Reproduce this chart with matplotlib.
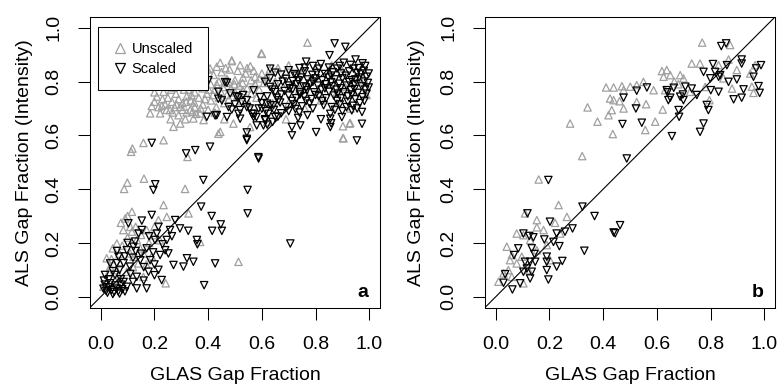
import matplotlib
matplotlib.use('Agg')
import matplotlib.pyplot as plt
from matplotlib.lines import Line2D
import numpy as np

plt.rcParams.update({
    'font.family': ['Liberation Sans', 'DejaVu Sans'],
    'font.size': 14,
})

# ---- panel a: all plots ----
a_scaled = [
    # upper-right cluster
    (0.871, 0.942), (0.911, 0.929), (0.852, 0.898), (0.949, 0.882), (0.765, 0.874), (0.905, 0.870),
    (0.975, 0.868), (0.930, 0.862), (0.820, 0.865), (0.790, 0.858), (0.850, 0.852), (0.880, 0.848),
    (0.960, 0.850), (0.985, 0.858), (0.740, 0.850), (0.700, 0.842), (0.650, 0.833), (0.672, 0.826),
    (0.720, 0.828), (0.760, 0.838), (0.805, 0.832), (0.835, 0.828), (0.865, 0.835), (0.895, 0.830),
    (0.925, 0.838), (0.955, 0.832), (0.980, 0.840), (0.612, 0.799), (0.630, 0.812), (0.690, 0.810),
    (0.715, 0.802), (0.745, 0.815), (0.770, 0.808), (0.800, 0.812), (0.825, 0.805), (0.848, 0.815),
    (0.872, 0.808), (0.900, 0.812), (0.935, 0.805), (0.962, 0.815), (0.990, 0.818), (0.660, 0.790),
    (0.700, 0.785), (0.730, 0.790), (0.755, 0.782), (0.780, 0.792), (0.808, 0.785), (0.838, 0.790),
    (0.862, 0.782), (0.888, 0.792), (0.915, 0.785), (0.945, 0.790), (0.972, 0.782), (0.995, 0.795),
    (0.640, 0.770), (0.685, 0.765), (0.715, 0.772), (0.742, 0.760), (0.768, 0.768), (0.795, 0.760),
    (0.822, 0.770), (0.850, 0.762), (0.878, 0.770), (0.905, 0.760), (0.932, 0.768), (0.958, 0.758),
    (0.985, 0.770), (0.620, 0.745), (0.655, 0.740), (0.700, 0.748), (0.728, 0.738), (0.758, 0.745),
    (0.785, 0.735), (0.812, 0.745), (0.840, 0.738), (0.868, 0.748), (0.895, 0.738), (0.920, 0.745),
    (0.948, 0.735), (0.975, 0.742), (0.600, 0.720), (0.632, 0.712), (0.668, 0.722), (0.690, 0.705),
    (0.720, 0.715), (0.750, 0.708), (0.778, 0.718), (0.830, 0.712), (0.860, 0.705), (0.890, 0.715),
    (0.940, 0.710), (0.965, 0.720), (0.588, 0.700), (0.615, 0.690), (0.645, 0.695), (0.672, 0.682),
    (0.700, 0.690), (0.740, 0.685), (0.770, 0.675), (0.855, 0.680), (0.900, 0.690), (0.935, 0.693),
    (0.973, 0.687), (0.580, 0.668), (0.612, 0.660), (0.640, 0.650), (0.660, 0.670), (0.712, 0.631),
    (0.712, 0.600), (0.743, 0.637), (0.802, 0.612), (0.855, 0.662), (0.855, 0.631), (0.858, 0.645),
    (0.898, 0.668), (0.973, 0.643), (0.954, 0.581), (0.620, 0.640),
    (0.760, 0.852), (0.812, 0.848), (0.890, 0.858), (0.942, 0.848), (0.968, 0.830), (0.728, 0.822),
    (0.788, 0.825), (0.858, 0.822), (0.912, 0.822), (0.948, 0.808), (0.998, 0.830), (0.678, 0.800),
    (0.735, 0.805), (0.790, 0.800), (0.858, 0.798), (0.925, 0.798), (0.980, 0.800), (0.705, 0.775),
    (0.765, 0.778), (0.835, 0.775), (0.892, 0.775), (0.945, 0.772), (0.998, 0.778), (0.672, 0.752),
    (0.742, 0.752), (0.800, 0.750), (0.882, 0.755), (0.935, 0.752), (0.990, 0.755), (0.712, 0.728),
    (0.765, 0.728), (0.825, 0.728), (0.880, 0.728), (0.920, 0.725), (0.982, 0.728), (0.725, 0.698),
    (0.790, 0.700), (0.872, 0.695), (0.915, 0.705), (0.955, 0.700), (0.735, 0.665), (0.820, 0.660),
    # middle
    (0.470, 0.796), (0.401, 0.805), (0.438, 0.762), (0.482, 0.756), (0.505, 0.745), (0.544, 0.731),
    (0.530, 0.750), (0.519, 0.694), (0.488, 0.696), (0.500, 0.715), (0.432, 0.675), (0.395, 0.669),
    (0.569, 0.768), (0.555, 0.700), (0.570, 0.680), (0.544, 0.582), (0.544, 0.611), (0.588, 0.514),
    (0.631, 0.848), (0.631, 0.780), (0.650, 0.761), (0.594, 0.742), (0.619, 0.718), (0.643, 0.712),
    (0.662, 0.730), (0.600, 0.699), (0.625, 0.680), (0.650, 0.668), (0.612, 0.656), (0.581, 0.637),
    (0.606, 0.637), (0.563, 0.680), (0.569, 0.668), (0.513, 0.742), (0.525, 0.724), (0.476, 0.705),
    (0.451, 0.730), (0.438, 0.736), (0.470, 0.668), (0.513, 0.680), (0.519, 0.662), (0.544, 0.705),
    (0.426, 0.674), (0.463, 0.798), (0.544, 0.587), (0.587, 0.519),
    # scattered
    (0.407, 0.558), (0.352, 0.545), (0.318, 0.533), (0.190, 0.572), (0.382, 0.434), (0.203, 0.418),
    (0.196, 0.397), (0.547, 0.397), (0.547, 0.310), (0.374, 0.335), (0.413, 0.300), (0.447, 0.269),
    (0.451, 0.245), (0.415, 0.245), (0.706, 0.198), (0.385, 0.043), (0.426, 0.124), (0.345, 0.130),
    (0.308, 0.112), (0.321, 0.143), (0.358, 0.211), (0.326, 0.245), (0.295, 0.254), (0.277, 0.285),
    (0.271, 0.118), (0.227, 0.062), (0.252, 0.161), (0.360, 0.195),
    # lower-left
    (0.190, 0.304), (0.153, 0.283), (0.153, 0.248), (0.103, 0.273), (0.141, 0.235), (0.209, 0.235),
    (0.258, 0.248), (0.246, 0.211), (0.202, 0.211), (0.171, 0.180), (0.122, 0.186), (0.097, 0.173),
    (0.066, 0.149), (0.035, 0.124), (0.016, 0.081), (0.053, 0.081), (0.109, 0.112), (0.147, 0.136),
    (0.184, 0.136), (0.221, 0.155), (0.240, 0.173), (0.178, 0.093), (0.134, 0.074), (0.171, 0.031),
    (0.134, 0.031), (0.097, 0.037), (0.230, 0.195), (0.265, 0.225), (0.215, 0.260), (0.180, 0.225),
    (0.128, 0.205), (0.150, 0.160), (0.120, 0.145), (0.085, 0.125), (0.070, 0.100), (0.110, 0.085),
    (0.160, 0.110), (0.200, 0.120), (0.195, 0.165), (0.130, 0.170), (0.090, 0.150), (0.060, 0.125),
    (0.045, 0.095), (0.030, 0.065), (0.075, 0.065), (0.120, 0.055), (0.160, 0.060), (0.200, 0.080),
    (0.215, 0.100), (0.100, 0.200), (0.060, 0.170),
    (0.010, 0.030), (0.020, 0.022), (0.030, 0.035), (0.040, 0.025), (0.050, 0.018), (0.060, 0.030),
    (0.070, 0.012), (0.080, 0.028), (0.015, 0.045), (0.035, 0.050), (0.055, 0.042), (0.075, 0.045),
    (0.025, 0.015), (0.045, 0.010), (0.065, 0.020), (0.090, 0.020), (0.012, 0.060), (0.085, 0.055),
]

a_unscaled = [
    (0.770, 0.945), (0.598, 0.905), (0.445, 0.870), (0.488, 0.876), (0.519, 0.861), (0.557, 0.857),
    (0.407, 0.849), (0.370, 0.836), (0.345, 0.824), (0.302, 0.812), (0.271, 0.778), (0.234, 0.762),
    (0.209, 0.744), (0.190, 0.709), (0.184, 0.682), (0.221, 0.682), (0.258, 0.694), (0.296, 0.706),
    (0.333, 0.694), (0.370, 0.682), (0.383, 0.657), (0.345, 0.663), (0.296, 0.644), (0.271, 0.632),
    (0.234, 0.582), (0.159, 0.572), (0.118, 0.551), (0.113, 0.539), (0.445, 0.613), (0.494, 0.644),
    (0.460, 0.660), (0.600, 0.903), (0.488, 0.879), (0.438, 0.606), (0.556, 0.631),
    (0.250, 0.740), (0.280, 0.755), (0.310, 0.770), (0.335, 0.790), (0.360, 0.800), (0.390, 0.815),
    (0.420, 0.825), (0.450, 0.835), (0.480, 0.845), (0.510, 0.840), (0.540, 0.830), (0.570, 0.840),
    (0.600, 0.830), (0.630, 0.845), (0.660, 0.850), (0.690, 0.838), (0.240, 0.715), (0.265, 0.725),
    (0.290, 0.735), (0.320, 0.745), (0.350, 0.760), (0.380, 0.775), (0.410, 0.790), (0.440, 0.800),
    (0.470, 0.810), (0.500, 0.805), (0.530, 0.815), (0.560, 0.805), (0.590, 0.812), (0.215, 0.705),
    (0.245, 0.695), (0.275, 0.705), (0.305, 0.720), (0.335, 0.730), (0.365, 0.740), (0.395, 0.755),
    (0.425, 0.770), (0.455, 0.780), (0.485, 0.775), (0.515, 0.785), (0.545, 0.775), (0.575, 0.790),
    (0.200, 0.725), (0.230, 0.735), (0.260, 0.660), (0.290, 0.675), (0.320, 0.685), (0.350, 0.705),
    (0.380, 0.715), (0.410, 0.730), (0.440, 0.740), (0.470, 0.750), (0.500, 0.760), (0.530, 0.765),
    (0.560, 0.755), (0.590, 0.770), (0.315, 0.660), (0.355, 0.680), (0.400, 0.695), (0.430, 0.705),
    (0.460, 0.720), (0.520, 0.730), (0.550, 0.720), (0.580, 0.740), (0.200, 0.760), (0.225, 0.790),
    (0.255, 0.800), (0.285, 0.795), (0.320, 0.805), (0.365, 0.820),
    (0.262, 0.770), (0.295, 0.785), (0.328, 0.770), (0.372, 0.790), (0.402, 0.770), (0.432, 0.790),
    (0.468, 0.795), (0.498, 0.790), (0.528, 0.795), (0.282, 0.715), (0.318, 0.725), (0.348, 0.722),
    (0.388, 0.735), (0.418, 0.750), (0.448, 0.760), (0.478, 0.735), (0.508, 0.745), (0.338, 0.750),
    (0.228, 0.710), (0.268, 0.685), (0.305, 0.695), (0.342, 0.688), (0.372, 0.700), (0.425, 0.685),
    (0.398, 0.845), (0.432, 0.855), (0.465, 0.850), (0.545, 0.850), (0.575, 0.818), (0.608, 0.795),
    (0.620, 0.820), (0.650, 0.800), (0.680, 0.780), (0.710, 0.790), (0.740, 0.770), (0.780, 0.800),
    (0.820, 0.780), (0.850, 0.790), (0.880, 0.760), (0.910, 0.780), (0.940, 0.760), (0.970, 0.800),
    (0.700, 0.860), (0.750, 0.830), (0.800, 0.850), (0.860, 0.860), (0.900, 0.840), (0.950, 0.820),
    (0.980, 0.810), (0.640, 0.720), (0.700, 0.720), (0.760, 0.700), (0.820, 0.730), (0.880, 0.720),
    (0.930, 0.700), (0.990, 0.750), (0.904, 0.589), (0.927, 0.644), (0.902, 0.634), (0.902, 0.590),
    (0.929, 0.646), (0.620, 0.650), (0.690, 0.660),
    (0.161, 0.439), (0.099, 0.424), (0.087, 0.401), (0.314, 0.401), (0.323, 0.520), (0.234, 0.341),
    (0.513, 0.130), (0.327, 0.310), (0.370, 0.204), (0.242, 0.050), (0.100, 0.300),
    (0.116, 0.316), (0.091, 0.291), (0.075, 0.275), (0.084, 0.248), (0.116, 0.242), (0.134, 0.211),
    (0.060, 0.198), (0.045, 0.180), (0.022, 0.143), (0.035, 0.112), (0.072, 0.124), (0.053, 0.062),
    (0.097, 0.093), (0.122, 0.149), (0.159, 0.161), (0.171, 0.248), (0.215, 0.285), (0.246, 0.297),
    (0.196, 0.229), (0.140, 0.124), (0.159, 0.074), (0.084, 0.037), (0.010, 0.037), (0.035, 0.050),
    (0.060, 0.099), (0.109, 0.161), (0.147, 0.180), (0.100, 0.220), (0.130, 0.260), (0.080, 0.190),
    (0.040, 0.140), (0.065, 0.080), (0.120, 0.110), (0.180, 0.200), (0.150, 0.230), (0.200, 0.260),
    (0.110, 0.260), (0.070, 0.160), (0.030, 0.090), (0.170, 0.120), (0.190, 0.150), (0.220, 0.210),
]

# ---- panel b ----
b_unscaled = [
    (0.769, 0.945), (0.873, 0.936), (0.867, 0.882), (0.730, 0.867), (0.761, 0.867), (0.830, 0.861),
    (0.619, 0.839), (0.637, 0.843), (0.650, 0.824), (0.687, 0.824), (0.699, 0.812), (0.625, 0.818),
    (0.550, 0.799), (0.525, 0.787), (0.501, 0.781), (0.470, 0.783), (0.439, 0.778), (0.411, 0.778),
    (0.476, 0.768), (0.588, 0.768), (0.631, 0.768), (0.426, 0.737), (0.439, 0.731), (0.461, 0.727),
    (0.476, 0.700), (0.432, 0.694), (0.420, 0.675), (0.525, 0.724), (0.560, 0.716), (0.622, 0.696),
    (0.594, 0.651), (0.557, 0.620), (0.436, 0.605), (0.379, 0.651), (0.342, 0.704), (0.277, 0.644),
    (0.322, 0.523), (0.160, 0.436), (0.234, 0.341), (0.265, 0.297), (0.221, 0.275), (0.153, 0.285),
    (0.153, 0.258), (0.178, 0.248), (0.109, 0.310), (0.078, 0.235), (0.103, 0.229), (0.128, 0.211),
    (0.041, 0.186), (0.060, 0.155), (0.053, 0.136), (0.078, 0.124), (0.097, 0.149), (0.029, 0.087),
    (0.010, 0.056), (0.047, 0.099), (0.060, 0.074), (0.103, 0.050), (0.122, 0.099), (0.153, 0.173),
    (0.190, 0.192), (0.240, 0.235), (0.202, 0.136),
    (0.848, 0.812), (0.880, 0.774), (0.954, 0.781), (0.960, 0.758), (0.966, 0.861), (0.948, 0.830),
    (0.796, 0.731), (0.724, 0.762), (0.898, 0.843), (0.665, 0.800), (0.680, 0.790), (0.780, 0.780),
]

b_scaled = [
    (0.840, 0.932), (0.858, 0.942), (0.916, 0.882), (0.916, 0.867), (0.988, 0.861), (0.970, 0.849),
    (0.960, 0.818), (0.979, 0.783), (0.983, 0.758), (0.923, 0.771), (0.916, 0.740), (0.886, 0.734),
    (0.867, 0.799), (0.898, 0.808), (0.836, 0.824), (0.809, 0.865), (0.817, 0.836), (0.830, 0.818),
    (0.799, 0.812), (0.861, 0.861), (0.801, 0.768), (0.830, 0.762), (0.774, 0.836), (0.749, 0.750),
    (0.730, 0.774), (0.706, 0.781), (0.697, 0.752), (0.687, 0.744), (0.699, 0.731), (0.681, 0.694),
    (0.683, 0.669), (0.786, 0.713), (0.792, 0.694), (0.774, 0.644), (0.761, 0.613), (0.656, 0.597),
    (0.637, 0.768), (0.643, 0.731), (0.663, 0.777), (0.563, 0.778), (0.525, 0.766), (0.522, 0.700),
    (0.544, 0.647), (0.472, 0.642), (0.476, 0.740), (0.488, 0.514), (0.196, 0.434), (0.323, 0.335),
    (0.368, 0.300), (0.463, 0.266), (0.439, 0.239), (0.445, 0.236), (0.330, 0.171), (0.286, 0.254),
    (0.258, 0.242), (0.227, 0.235), (0.237, 0.188), (0.248, 0.133), (0.202, 0.279), (0.215, 0.204),
    (0.181, 0.213), (0.190, 0.149), (0.190, 0.130), (0.190, 0.099), (0.196, 0.064), (0.227, 0.112),
    (0.118, 0.310), (0.103, 0.235), (0.125, 0.226), (0.140, 0.221), (0.134, 0.180), (0.144, 0.159),
    (0.084, 0.180), (0.068, 0.155), (0.109, 0.130), (0.128, 0.130), (0.147, 0.130), (0.116, 0.105),
    (0.103, 0.093), (0.134, 0.093), (0.128, 0.068), (0.091, 0.050), (0.062, 0.027), (0.035, 0.084),
    (0.029, 0.052), (0.640, 0.760), (0.650, 0.740),
]

ticks = [0.0, 0.2, 0.4, 0.6, 0.8, 1.0]
tick_labels = ['0.0', '0.2', '0.4', '0.6', '0.8', '1.0']
gray = '#a0a0a0'

fig = plt.figure(figsize=(7.78, 3.87), dpi=100)
ax_a = fig.add_axes([0.1157, 0.2054, 0.3727, 0.7506])
ax_b = fig.add_axes([0.6234, 0.2054, 0.3727, 0.7506])


def draw_panel(ax, unscaled, scaled, letter, ylab_x):
    u = np.array(unscaled)
    s = np.array(scaled)
    ax.scatter(u[:, 0], u[:, 1], marker='^', s=28, facecolors='none',
               edgecolors=gray, linewidths=0.9, zorder=2)
    ax.scatter(s[:, 0], s[:, 1], marker='v', s=28, facecolors='none',
               edgecolors='black', linewidths=0.9, zorder=3)
    ax.plot([-0.1, 1.1], [-0.1, 1.1], color='black', lw=0.8, zorder=4)
    ax.set_xlim(-0.04, 1.04)
    ax.set_ylim(-0.04, 1.04)
    ax.set_xticks(ticks)
    ax.set_xticklabels(tick_labels)
    ax.set_yticks(ticks)
    ax.set_yticklabels(tick_labels, rotation=90, va='center')
    ax.tick_params(direction='out', length=8.5, width=0.75, labelsize=14)
    ax.tick_params(axis='x', pad=12)
    ax.tick_params(axis='y', pad=11.5)
    for sp in ax.spines.values():
        sp.set_linewidth(0.75)
    ax.set_xlabel('GLAS Gap Fraction', fontsize=14)
    ax.set_ylabel('ALS Gap Fraction (Intensity)', fontsize=14)
    ax.xaxis.set_label_coords(0.5, -0.205)
    ax.yaxis.set_label_coords(ylab_x, 0.5)
    ax.text(0.94, 0.052, letter, transform=ax.transAxes, ha='center', va='center',
            fontsize=14, fontweight='bold')


draw_panel(ax_a, a_unscaled, a_scaled, 'a', -0.197)
draw_panel(ax_b, b_unscaled, b_scaled, 'b', -0.207)

handles = [
    Line2D([], [], marker='^', linestyle='none', markersize=7, markerfacecolor='none',
           markeredgecolor=gray, markeredgewidth=0.9, label='Unscaled'),
    Line2D([], [], marker='v', linestyle='none', markersize=7, markerfacecolor='none',
           markeredgecolor='black', markeredgewidth=0.9, label='Scaled'),
]
leg = ax_a.legend(handles=handles, loc='upper left', bbox_to_anchor=(0.0276, 0.964),
                  borderaxespad=0, fontsize=10.5, frameon=True, fancybox=False,
                  edgecolor='black', framealpha=1, handlelength=1.0, handletextpad=0.3,
                  labelspacing=0.4, borderpad=1.0)
leg.get_frame().set_linewidth(0.75)
leg.set_zorder(10)

fig.savefig('out.png', dpi=100)
